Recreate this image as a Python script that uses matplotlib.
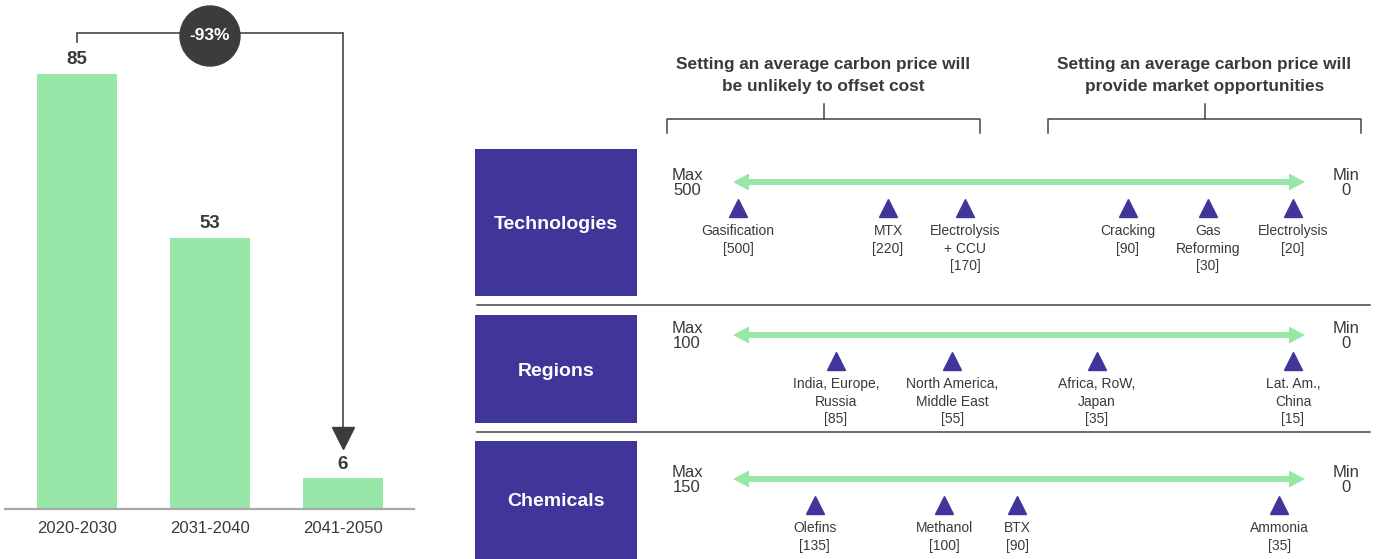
import matplotlib
matplotlib.use("Agg")
import matplotlib.pyplot as plt
from matplotlib.patches import Rectangle, Circle, Polygon

# ---- data -------------------------------------------------------------
periods = ["2020-2030", "2031-2040", "2041-2050"]
volumes = [85, 53, 6]
change_label = "-93%"

header_left = "Setting an average carbon price will\nbe unlikely to offset cost"
header_right = "Setting an average carbon price will\nprovide market opportunities"

row_titles = ["Technologies", "Regions", "Chemicals"]
row_max = [500, 100, 150]
row_min = [0, 0, 0]

tech_labels = ["Gasification", "MTX", "Electrolysis\n+ CCU", "Cracking", "Gas\nReforming", "Electrolysis"]
tech_values = [500, 220, 170, 90, 30, 20]
tech_slots = [0.009, 0.271, 0.406, 0.690, 0.830, 0.979]

region_labels = ["India, Europe,\nRussia", "North America,\nMiddle East", "Africa, RoW,\nJapan", "Lat. Am.,\nChina"]
region_values = [85, 55, 35, 15]
region_slots = [0.180, 0.383, 0.636, 0.979]

chem_labels = ["Olefins", "Methanol", "BTX", "Ammonia"]
chem_values = [135, 100, 90, 35]
chem_slots = [0.143, 0.369, 0.497, 0.955]

# ---- style ------------------------------------------------------------
GREEN = "#98e6a8"
PURPLE = "#40369a"
DARK = "#3c3c3b"
TEXT = "#3a3a3a"
plt.rcParams["font.family"] = ["Liberation Sans", "DejaVu Sans"]

W, H = 1379, 559
fig = plt.figure(figsize=(W / 100, H / 100), dpi=100)

# ---- left: bar chart --------------------------------------------------
px_per_unit = 5.12
base_px = 509
axb = fig.add_axes([0, 0, 420 / W, 1])
axb.set_xlim(-77 / 133, (420 - 77) / 133)
axb.set_ylim(-(H - base_px) / px_per_unit, base_px / px_per_unit)
axb.axis("off")

xs = list(range(len(periods)))
axb.bar(xs, volumes, width=80 / 133, color=GREEN, zorder=2)
axb.axhline(0, xmin=5 / 420, xmax=414 / 420, color="#a8a8a8", lw=1.6, zorder=3)
for x, v, p in zip(xs, volumes, periods):
    axb.text(x, v + 1.1, f"{v}", ha="center", va="bottom", fontsize=13.5,
             color=TEXT, fontweight="bold")
    axb.text(x, -3.9, p, ha="center", va="center", fontsize=12, color=TEXT)

# bracket from first to last bar with change badge
top = max(volumes) + 8
axb.plot([xs[0], xs[0], xs[-1], xs[-1]],
         [max(volumes) + 6.2, top, top, volumes[-1] + 8.5],
         color="#555555", lw=1.3, solid_joinstyle="miter", zorder=3)
axb.plot([xs[-1]], [volumes[-1] + 7.9], marker="v", ms=16, color=DARK,
         mec=DARK, zorder=4)
ax_c = fig.add_axes([0, 0, 420 / W, 1])
ax_c.set_xlim(0, 420)
ax_c.set_ylim(H, 0)
ax_c.axis("off")
ax_c.set_aspect("equal", adjustable="datalim")
ax_c.add_patch(Circle((210, 36), 30, color=DARK, zorder=5))
ax_c.text(210, 36, change_label, ha="center", va="center", color="white",
          fontsize=12.5, fontweight="bold", zorder=6)

# ---- right: positioning scales ---------------------------------------
axr = fig.add_axes([0, 0, 1, 1])
axr.set_xlim(0, W)
axr.set_ylim(H, 0)
axr.axis("off")
axr.patch.set_alpha(0)

# headers with brackets
for text, (x0, x1) in [(header_left, (667, 980)), (header_right, (1048, 1361))]:
    xc = (x0 + x1) / 2
    axr.text(xc, 75.5, text, ha="center", va="center", fontsize=12.4,
             color=TEXT, fontweight="bold", linespacing=1.5)
    axr.plot([x0, x0, x1, x1], [133, 119, 119, 133], color="#444444", lw=1.1)
    axr.plot([xc, xc], [104, 119], color="#444444", lw=1.1)

box_x0, box_x1 = 475, 637
ax_x0, ax_x1 = 733, 1305
rows = [
    dict(box=(149, 296), arrow_y=182, labels=tech_labels, values=tech_values, slots=tech_slots),
    dict(box=(315, 423), arrow_y=335, labels=region_labels, values=region_values, slots=region_slots),
    dict(box=(441, 559), arrow_y=479, labels=chem_labels, values=chem_values, slots=chem_slots),
]
for y_sep in (305, 432):
    axr.plot([477, 1370], [y_sep, y_sep], color="#444444", lw=1.1)


def double_arrow(y, x0, x1, shaft=6, head_len=16, head_h=17):
    hs, hh = shaft / 2, head_h / 2
    pts = [(x0, y), (x0 + head_len, y - hh), (x0 + head_len, y - hs),
           (x1 - head_len, y - hs), (x1 - head_len, y - hh), (x1, y),
           (x1 - head_len, y + hh), (x1 - head_len, y + hs),
           (x0 + head_len, y + hs), (x0 + head_len, y + hh)]
    axr.add_patch(Polygon(pts, closed=True, color=GREEN, lw=0))


for title, vmax, vmin, row in zip(row_titles, row_max, row_min, rows):
    y0, y1 = row["box"]
    axr.add_patch(Rectangle((box_x0, y0), box_x1 - box_x0, y1 - y0,
                            color=PURPLE, lw=0))
    axr.text((box_x0 + box_x1) / 2, (y0 + y1) / 2 + 2,
             title, ha="center", va="center", color="white", fontsize=14,
             fontweight="bold")
    ay = row["arrow_y"]
    double_arrow(ay, ax_x0, ax_x1)
    axr.text(687, ay + 1, f"Max\n{vmax}", ha="center", va="center", fontsize=12,
             color=TEXT, linespacing=1.08)
    axr.text(1346, ay + 1, f"Min\n{vmin}", ha="center", va="center", fontsize=12,
             color=TEXT, linespacing=1.08)
    tx = [ax_x0 + s * (ax_x1 - ax_x0) for s in row["slots"]]
    axr.plot(tx, [ay + 26] * len(tx), linestyle="none", marker="^", ms=13,
             color=PURPLE, mec=PURPLE)
    for x, lab, v in zip(tx, row["labels"], row["values"]):
        axr.text(x, ay + 42, f"{lab}\n[{v}]", ha="center", va="top",
                 fontsize=10, color=TEXT, linespacing=1.32)

fig.savefig("out.png", dpi=100)
